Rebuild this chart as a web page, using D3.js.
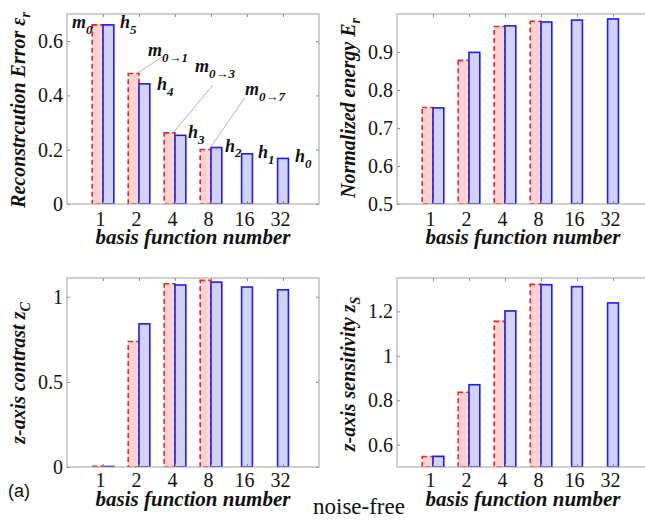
<!DOCTYPE html>
<html>
  <head>
    <meta charset="UTF-8" />
  </head>
  <body style="margin: 0; background: #fff">
    <svg></svg>
    <script src="https://d3js.org/d3.v7.min.js"></script>
    <script>
      let width = 645,
        height = 523;
      const serif = '"Liberation Serif"';

      // basis function numbers on the x axis
      const basisNumbers = ["1", "2", "4", "8", "16", "32"];

      // red dashed bars (m) and blue bars (h)
      const errorM = [0.66, 0.481, 0.262, 0.201];
      const errorH = [0.66, 0.443, 0.253, 0.208, 0.185, 0.168];
      const energyM = [0.754, 0.878, 0.967, 0.981];
      const energyH = [0.753, 0.899, 0.969, 0.979, 0.984, 0.987];
      const contrastM = [0.004, 0.737, 1.076, 1.096];
      const contrastH = [0.003, 0.841, 1.069, 1.086, 1.057, 1.041];
      const sensitivityM = [0.547, 0.836, 1.155, 1.322];
      const sensitivityH = [0.548, 0.87, 1.202, 1.32, 1.311, 1.238];

      const errorTicks = [0, 0.2, 0.4, 0.6];
      const energyTicks = [0.5, 0.6, 0.7, 0.8, 0.9];
      const contrastTicks = [0, 0.5, 1];
      const sensitivityTicks = [0.6, 0.8, 1, 1.2];

      // annotations of panel 1: text, subscript, bar index, series
      const notes = [
        { t: "m", s: "0", i: 1, on: "m", dx: -31, dy: 3 },
        { t: "h", s: "5", i: 1, on: "h", dx: 17, dy: 3 },
        { t: "m", s: "0\u21921", i: 2, on: "m", dx: 9, dy: -17, lx: 15, ly: 0 },
        { t: "h", s: "4", i: 2, on: "h", dx: 18, dy: 6 },
        { t: "m", s: "0\u21923", i: 3, on: "m", dx: 20, dy: -61, lx: 18, ly: 13 },
        { t: "h", s: "3", i: 3, on: "h", dx: 13, dy: 3 },
        { t: "m", s: "0\u21927", i: 4, on: "m", dx: 34, dy: -54, lx: 0, ly: 2 },
        { t: "h", s: "2", i: 4, on: "h", dx: 14, dy: 4 },
        { t: "h", s: "1", i: 5, on: "h", dx: 11, dy: 4 },
        { t: "h", s: "0", i: 6, on: "h", dx: 12, dy: 4 },
      ];

      let svg = d3.select("svg").attr("width", width).attr("height", height);

      const panels = [
        { left: 67, right: 319, top: 14, bottom: 204, yDomain: [0, 0.7], ticks: errorTicks,
          m: errorM, h: errorH, label: "Reconstrcution Error \u03b5", sub: "r",
          labelX: 25, labelY: 110, xLab: 226, xTitle: 244 },
        { left: 397, right: 649, top: 14, bottom: 204, yDomain: [0.5, 1.0], ticks: energyTicks,
          m: energyM, h: energyH, label: "Normalized energy E", sub: "r",
          labelX: 355, labelY: 108, xLab: 226, xTitle: 244 },
        { left: 67, right: 319, top: 278, bottom: 467, yDomain: [0, 1.11], ticks: contrastTicks,
          m: contrastM, h: contrastH, label: "z-axis contrast z", sub: "C",
          labelX: 25, labelY: 373, xLab: 487, xTitle: 506 },
        { left: 397, right: 649, top: 278, bottom: 467, yDomain: [0.5, 1.35], ticks: sensitivityTicks,
          m: sensitivityM, h: sensitivityH, label: "z-axis sensitivity z", sub: "S",
          labelX: 355, labelY: 374, xLab: 487, xTitle: 506 },
      ];

      const idx = basisNumbers.map((d, i) => i + 1);

      panels.forEach((p, k) => {
        let g = svg.append("g");
        let x = d3.scaleLinear().domain([0, 7]).range([p.left, p.right]);
        let y = d3.scaleLinear().domain(p.yDomain).range([p.bottom, p.top]);
        let bw = x(0.3) - x(0);
        let nM = p.m.length;

        svg.append("defs").append("clipPath").attr("id", "clip" + k)
          .append("rect")
          .attr("x", p.left).attr("y", p.top)
          .attr("width", p.right - p.left).attr("height", p.bottom - p.top);

        let bars = g.append("g").attr("clip-path", `url(#clip${k})`);

        bars.selectAll("rect.m")
          .data(p.m)
          .join("rect")
          .attr("class", "m")
          .attr("x", (d, i) => x(i + 1 - 0.3))
          .attr("y", (d) => y(d))
          .attr("width", bw)
          .attr("height", (d) => y(p.yDomain[0]) - y(d))
          .attr("fill", "#fdd2d2")
          .attr("stroke", "#ee2222")
          .attr("stroke-width", 1.6)
          .attr("stroke-dasharray", "5,3");

        bars.selectAll("rect.h")
          .data(p.h)
          .join("rect")
          .attr("class", "h")
          .attr("x", (d, i) => (i < nM ? x(i + 1) : x(i + 1 - 0.15)))
          .attr("y", (d) => y(d))
          .attr("width", bw)
          .attr("height", (d) => y(p.yDomain[0]) - y(d))
          .attr("fill", "#d2d2f8")
          .attr("stroke", "#1c1cee")
          .attr("stroke-width", 1.6);

        // axes with inward ticks on all four sides
        let xb = g.append("g")
          .attr("transform", `translate(0,${p.bottom})`)
          .call(d3.axisBottom(x).tickValues(idx).tickFormat((i) => basisNumbers[i - 1]).tickSize(-3).tickPadding(0));
        let xt = g.append("g")
          .attr("transform", `translate(0,${p.top})`)
          .call(d3.axisTop(x).tickValues(idx).tickFormat("").tickSize(-3));
        let yl = g.append("g")
          .attr("transform", `translate(${p.left},0)`)
          .call(d3.axisLeft(y).tickValues(p.ticks).tickFormat((d) => String(d)).tickSize(-3).tickPadding(4));
        let yr = g.append("g")
          .attr("transform", `translate(${p.right},0)`)
          .call(d3.axisRight(y).tickValues(p.ticks).tickFormat("").tickSize(-3));

        [xb, xt, yl, yr].forEach((a) => {
          a.attr("font-family", null).attr("font-size", null);
          a.select(".domain").remove();
          a.selectAll("line").attr("stroke", "#888");
        });

        xb.selectAll("text")
          .attr("y", p.xLab - p.bottom)
          .attr("dy", null)
          .attr("dx", -3)
          .attr("fill", "#111")
          .style("font-family", serif)
          .style("font-size", "20px");
        yl.selectAll("text")
          .attr("fill", "#111")
          .style("font-family", serif)
          .style("font-size", "20px");

        g.append("rect")
          .attr("x", p.left).attr("y", p.top)
          .attr("width", p.right - p.left).attr("height", p.bottom - p.top)
          .attr("fill", "none")
          .attr("stroke", "#a0a0a0")
          .attr("stroke-width", 1);

        // y label
        let yt = g.append("text")
          .attr("transform", `translate(${p.labelX},${p.labelY}) rotate(-90)`)
          .attr("text-anchor", "middle")
          .style("font-family", serif)
          .style("font-size", "20px")
          .style("font-weight", "bold")
          .style("font-style", "italic")
          .attr("fill", "#111");
        yt.append("tspan").text(p.label);
        yt.append("tspan").attr("dy", "0.35em").style("font-size", "14px").text(p.sub);

        // x title
        g.append("text")
          .attr("x", (p.left + p.right) / 2)
          .attr("y", p.xTitle)
          .attr("text-anchor", "middle")
          .style("font-family", serif)
          .style("font-size", "21px")
          .style("font-weight", "bold")
          .style("font-style", "italic")
          .attr("fill", "#111")
          .text("basis function number");

        if (k == 0) {
          notes.forEach((n) => {
            let v = n.on == "m" ? p.m[n.i - 1] : p.h[n.i - 1];
            let tx = x(n.i) + n.dx,
              ty = y(v) + n.dy;
            if (n.lx != null) {
              g.append("line")
                .attr("x1", x(n.i) - 2).attr("y1", y(v))
                .attr("x2", tx + n.lx).attr("y2", ty + n.ly)
                .attr("stroke", "#999")
                .attr("stroke-width", 0.8);
            }
            let t = g.append("text")
              .attr("x", tx).attr("y", ty)
              .style("font-family", serif)
              .style("font-style", "italic")
              .style("font-weight", "bold")
              .style("font-size", "18px")
              .attr("fill", "#111");
            t.append("tspan").text(n.t);
            t.append("tspan").attr("dy", "0.45em").style("font-size", "13px").text(n.s);
          });
        }
      });

      svg.append("text")
        .attr("x", 8).attr("y", 497)
        .style("font-family", '"Liberation Sans"')
        .style("font-size", "18px")
        .attr("fill", "#111")
        .text("(a)");

      svg.append("text")
        .attr("x", 313).attr("y", 514)
        .style("font-family", serif)
        .style("font-size", "23px")
        .attr("fill", "#111")
        .text("noise-free");
    </script>
  </body>
</html>
